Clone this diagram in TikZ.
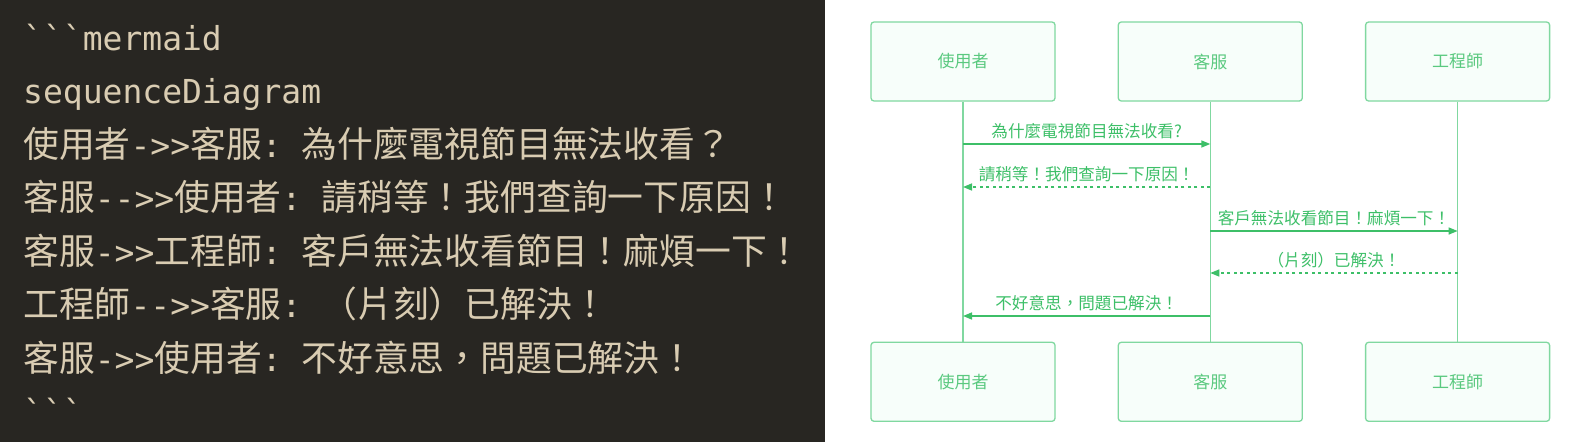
\documentclass[tikz,border=0pt]{standalone}
\usepackage{fontspec}
\newfontfamily\cjk{Noto Sans CJK TC}
\newfontfamily\codemono{DejaVu Sans Mono}
\usetikzlibrary{positioning, arrows.meta}
\definecolor{editorbg}{HTML}{282622}
\definecolor{codetext}{HTML}{D9CCB2}
\definecolor{seqgreen}{HTML}{3DBF68}
\definecolor{boxgreen}{HTML}{80D8A0}
\definecolor{boxfill}{HTML}{F7FEFA}
\newcommand{\zh}[1]{{\cjk\fontsize{35.8}{40}\selectfont #1}}

\begin{document}
\begin{tikzpicture}[
    x=1pt, y=-1pt,
    node distance=240pt and 62pt,
    codeline/.style={anchor=base west, inner sep=0pt, text=codetext, font=\codemono\fontsize{33}{40}\selectfont\frenchspacing},
    actorbox/.style={rectangle, rounded corners=3pt, draw=boxgreen, fill=boxfill, line width=1.3pt, minimum width=184pt, minimum height=79pt, text=seqgreen!85!white, font=\cjk\fontsize{17}{20}\selectfont},
    lifeline/.style={draw=boxgreen, line width=1.2pt},
    msg/.style={-{Triangle[length=9pt,width=7pt]}, line width=1.5pt, color=seqgreen},
    reply/.style={msg, dash pattern=on 3pt off 3.5pt},
    msglabel/.style={above=4pt, inner sep=0pt, text=seqgreen, font=\cjk\fontsize{16.6}{19}\selectfont}
]

\useasboundingbox (0,0) rectangle (1575,442);
\fill[white] (0,0) rectangle (1575,442);
\fill[editorbg] (0,0) rectangle (825,442);

% code panel
\node[codeline] (l1) at (23,50) {```mermaid};
\node[codeline] (l2) at (23,103.5) {sequenceDiagram};
\node[codeline] (l3) at (23,157) {\zh{使用者}->>\zh{客服}: \zh{為什麼電視節目無法收看？}};
\node[codeline] (l4) at (23,210.5) {\zh{客服}-->>\zh{使用者}: \zh{請稍等！我們查詢一下原因！}};
\node[codeline] (l5) at (23,264) {\zh{客服}->>\zh{工程師}: \zh{客戶無法收看節目！麻煩一下！}};
\node[codeline] (l6) at (23,317.5) {\zh{工程師}-->>\zh{客服}: \zh{（片刻）已解決！}};
\node[codeline] (l7) at (23,371) {\zh{客服}->>\zh{使用者}: \zh{不好意思，問題已解決！}};
\node[codeline] (l8) at (23,424.5) {```};

% sequence diagram
\node[actorbox] (user) at (963,61.5) {使用者};
\node[actorbox, right=of user] (cs) {客服};
\node[actorbox, right=of cs] (eng) {工程師};
\node[actorbox, below=of user] (userB) {使用者};
\node[actorbox, below=of cs] (csB) {客服};
\node[actorbox, below=of eng] (engB) {工程師};

\draw[lifeline] (user) -- (userB);
\draw[lifeline] (cs) -- (csB);
\draw[lifeline] (eng) -- (engB);

\coordinate (m1) at (0,144);
\coordinate (m2) at (0,187);
\coordinate (m3) at (0,231);
\coordinate (m4) at (0,273);
\coordinate (m5) at (0,316);

\draw[msg] (user |- m1) -- node[msglabel] {為什麼電視節目無法收看?} (cs |- m1);
\draw[reply] (cs |- m2) -- node[msglabel] {請稍等！我們查詢一下原因！} (user |- m2);
\draw[msg] (cs |- m3) -- node[msglabel] {客戶無法收看節目！麻煩一下！} (eng |- m3);
\draw[reply] (eng |- m4) -- node[msglabel] {（片刻）已解決！} (cs |- m4);
\draw[msg] (cs |- m5) -- node[msglabel] {不好意思，問題已解決！} (user |- m5);

\end{tikzpicture}
\end{document}
